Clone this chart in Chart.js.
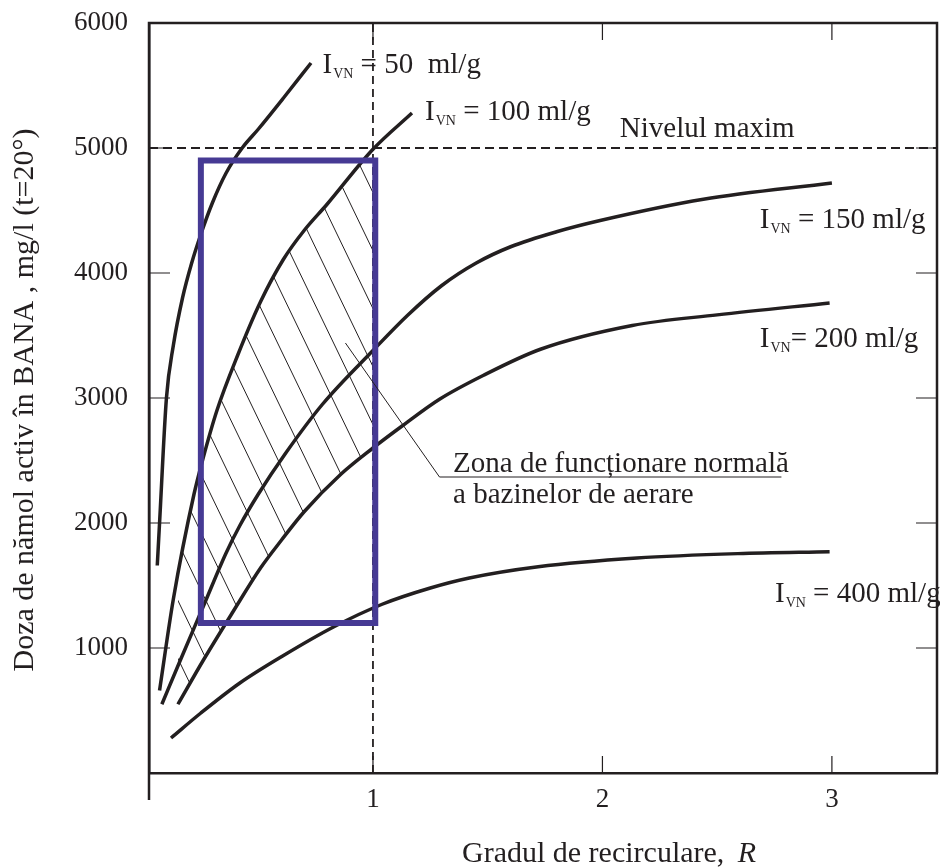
<!DOCTYPE html>
<html>
<head>
<meta charset="utf-8">
<script src="https://cdn.jsdelivr.net/npm/chart.js@4.4.0/dist/chart.umd.min.js"></script>
<style>
  html, body { margin: 0; padding: 0; background: #fff; }
</style>
</head>
<body>
<canvas id="chart1" width="940" height="868"></canvas>
<script>
// axis ticks
const xTicks = [1, 2, 3];
const yTicks = [1000, 2000, 3000, 4000, 5000, 6000];

// I_VN = 50 ml/g
const r50 = [0.06, 0.07, 0.10, 0.13, 0.17, 0.21, 0.25, 0.30, 0.36, 0.43, 0.50, 0.61, 0.73];
const d50 = [1660, 2000, 3000, 3420, 3800, 4080, 4310, 4560, 4800, 5000, 5150, 5400, 5680];
// I_VN = 100 ml/g
const r100 = [0.07, 0.13, 0.22, 0.26, 0.32, 0.41, 0.51, 0.61, 0.70, 0.80, 1.00, 1.17];
const d100 = [660, 1390, 2230, 2520, 2900, 3340, 3770, 4110, 4340, 4550, 4990, 5280];
// I_VN = 150 ml/g
const r150 = [0.08, 0.16, 0.26, 0.36, 0.42, 0.50, 0.62, 0.78, 1.00, 1.15, 1.30, 1.45, 1.60, 1.80, 1.99, 2.44, 3.00];
const d150 = [550, 900, 1330, 1760, 1980, 2230, 2560, 2950, 3380, 3660, 3900, 4080, 4210, 4330, 4420, 4590, 4720];
// I_VN = 200 ml/g
const r200 = [0.15, 0.26, 0.39, 0.51, 0.60, 0.70, 0.86, 1.00, 1.13, 1.29, 1.48, 1.73, 2.13, 2.50, 2.99];
const d200 = [550, 900, 1290, 1640, 1860, 2090, 2390, 2600, 2780, 2990, 3180, 3390, 3580, 3665, 3760];
// I_VN = 400 ml/g
const r400 = [0.12, 0.25, 0.42, 0.61, 0.83, 1.04, 1.25, 1.42, 1.72, 2.15, 2.59, 2.99];
const d400 = [280, 480, 720, 940, 1170, 1350, 1480, 1560, 1650, 1720, 1755, 1770];

// normal operating zone (blue box) and reference lines
const zoneR = [0.25, 1.01];
const zoneDose = [1200, 4900];
const maxLevel = 5000;
const refR = 1;

const ink = '#231f20';
const serif = '"Liberation Serif", "Times New Roman", serif';
const xMin = 0.024, xMax = 3.458, yMin = 0, yMax = 6000;

const toXY = (xs, ys) => xs.map((v, i) => ({x: v, y: ys[i]}));

// diagonal hatch pattern
function makeHatch() {
    const w = 28, h = 58;
    const c = document.createElement('canvas');
    c.width = w; c.height = h;
    const g = c.getContext('2d');
    g.strokeStyle = ink;
    g.lineWidth = 1;
    g.beginPath();
    g.moveTo(0, 0); g.lineTo(w, h);
    g.moveTo(w, 0); g.lineTo(2 * w, h);
    g.moveTo(-w, 0); g.lineTo(0, h);
    g.stroke();
    return g.createPattern(c, 'repeat');
}
const hatch = makeHatch();

const curve = (xs, ys) => ({
    data: toXY(xs, ys),
    borderColor: ink,
    borderWidth: 3.5,
    cubicInterpolationMode: 'monotone',
    fill: false
});

const zoneBox = [
    {x: zoneR[0], y: zoneDose[0]}, {x: zoneR[0], y: zoneDose[1]},
    {x: zoneR[1], y: zoneDose[1]}, {x: zoneR[1], y: zoneDose[0]},
    {x: zoneR[0], y: zoneDose[0]}
];

const datasets = [
    {data: zoneBox, borderColor: '#463a94', borderWidth: 6, tension: 0,
     borderJoinStyle: 'miter', borderCapStyle: 'square', fill: false},
    curve(r50, d50),
    curve(r100, d100),
    curve(r150, d150),
    curve(r200, d200),
    curve(r400, d400),
    {data: [{x: xMin, y: maxLevel}, {x: xMax, y: maxLevel}], borderColor: ink,
     borderWidth: 1.8, borderDash: [9, 5], fill: false},
    {data: [{x: refR, y: yMin}, {x: refR, y: yMax}], borderColor: ink,
     borderWidth: 1.8, borderDash: [8, 5], fill: false},
    // hatched area between 100 and 200 ml/g inside the zone
    {data: toXY(r100, d100).filter(p => p.x <= zoneR[1]), borderColor: 'transparent',
     cubicInterpolationMode: 'monotone', fill: '+1', backgroundColor: hatch},
    {data: toXY(r200, d200).filter(p => p.x <= zoneR[1]), borderColor: 'transparent',
     cubicInterpolationMode: 'monotone', fill: false}
];

// labels on the plot, anchored in data units
const curveLabels = [
    {x: 0.78, y: 5600, pre: 'I', sub: 'VN', rest: ' = 50  ml/g'},
    {x: 1.227, y: 5224, pre: 'I', sub: 'VN', rest: ' = 100 ml/g'},
    {x: 2.686, y: 4360, pre: 'I', sub: 'VN', rest: ' = 150 ml/g'},
    {x: 2.686, y: 3408, pre: 'I', sub: 'VN', rest: '= 200 ml/g'},
    {x: 2.752, y: 1368, pre: 'I', sub: 'VN', rest: ' = 400 ml/g'}
];

const decor = {
    id: 'decor',
    afterDraw(chart) {
        const {ctx, chartArea: a, scales: {x, y}} = chart;
        ctx.save();
        // frame: top, right, left stub under the x axis
        ctx.strokeStyle = ink;
        ctx.lineWidth = 2.5;
        ctx.beginPath();
        ctx.moveTo(a.left, a.bottom + 27);
        ctx.lineTo(a.left, a.top);
        ctx.lineTo(a.right, a.top);
        ctx.lineTo(a.right, a.bottom);
        ctx.stroke();

        // inner tick marks
        ctx.lineWidth = 1.2;
        ctx.beginPath();
        yTicks.filter(v => v < yMax).forEach(v => {
            const py = y.getPixelForValue(v);
            ctx.moveTo(a.left, py); ctx.lineTo(a.left + 21, py);
            ctx.moveTo(a.right, py); ctx.lineTo(a.right - 21, py);
        });
        xTicks.forEach(v => {
            const px = x.getPixelForValue(v);
            ctx.moveTo(px, a.bottom); ctx.lineTo(px, a.bottom - 17);
            ctx.moveTo(px, a.top); ctx.lineTo(px, a.top + 17);
        });
        ctx.stroke();

        // leader line to the zone note
        ctx.lineWidth = 1;
        ctx.beginPath();
        ctx.moveTo(x.getPixelForValue(0.88), y.getPixelForValue(3440));
        ctx.lineTo(x.getPixelForValue(1.29), y.getPixelForValue(2368));
        ctx.lineTo(x.getPixelForValue(2.78), y.getPixelForValue(2368));
        ctx.stroke();

        ctx.fillStyle = ink;
        ctx.textAlign = 'left';
        ctx.textBaseline = 'alphabetic';

        curveLabels.forEach(l => {
            let px = x.getPixelForValue(l.x);
            const py = y.getPixelForValue(l.y);
            ctx.font = `29px ${serif}`;
            ctx.fillText(l.pre, px, py);
            px += ctx.measureText(l.pre).width + 1;
            ctx.font = `14px ${serif}`;
            ctx.fillText(l.sub, px, py + 5);
            px += ctx.measureText(l.sub).width;
            ctx.font = `29px ${serif}`;
            ctx.fillText(l.rest, px, py);
        });

        ctx.font = `29px ${serif}`;
        ctx.fillText('Nivelul maxim', x.getPixelForValue(2.076), y.getPixelForValue(5088));
        ctx.fillText('Zona de funcționare normală', x.getPixelForValue(1.349), y.getPixelForValue(2408));
        ctx.fillText('a bazinelor de aerare', x.getPixelForValue(1.349), y.getPixelForValue(2160));

        // axis titles
        ctx.font = `30px ${serif}`;
        const xt = 'Gradul de recirculare, ';
        ctx.fillText(xt, 462, 862);
        const xw = ctx.measureText(xt).width;
        ctx.font = `italic 30px ${serif}`;
        ctx.fillText('R', 462 + xw + 6, 862);

        ctx.font = `30px ${serif}`;
        ctx.translate(33, 400);
        ctx.rotate(-Math.PI / 2);
        ctx.textAlign = 'center';
        ctx.fillText('Doza de nămol activ în BANA , mg/l (t=20°)', 0, 0);
        ctx.restore();
    }
};

const ctx = document.getElementById('chart1').getContext('2d');
const chart = new Chart(ctx, {
    type: 'line',
    data: {datasets: datasets},
    plugins: [decor],
    options: {
        responsive: false,
        animation: false,
        layout: {padding: {top: 23, right: 3, left: 0, bottom: 0}},
        elements: {point: {radius: 0}},
        plugins: {legend: {display: false}, tooltip: {enabled: false}},
        scales: {
            x: {
                type: 'linear',
                min: xMin,
                max: xMax,
                grid: {display: false, drawTicks: false},
                border: {display: true, color: ink, width: 2.5},
                ticks: {color: ink, padding: 11, font: {family: serif, size: 27},
                        callback: v => String(v)},
                afterBuildTicks: s => { s.ticks = xTicks.map(v => ({value: v})); },
                afterFit: s => { s.height = 95; s.paddingLeft = 0; s.paddingRight = 0; }
            },
            y: {
                type: 'linear',
                min: yMin,
                max: yMax,
                grid: {display: false, drawTicks: false},
                border: {display: true, color: ink, width: 2.5},
                ticks: {color: ink, padding: 21, font: {family: serif, size: 27},
                        callback: v => String(v)},
                afterBuildTicks: s => { s.ticks = yTicks.map(v => ({value: v})); },
                afterFit: s => { s.width = 149; s.paddingTop = 0; s.paddingBottom = 0; }
            }
        }
    }
});
</script>
</body>
</html>
